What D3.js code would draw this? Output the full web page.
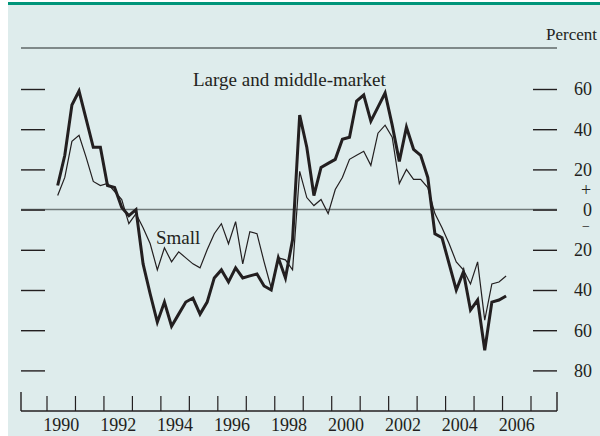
<!DOCTYPE html>
<html>
<head>
<meta charset="utf-8">
<script src="https://cdn.jsdelivr.net/npm/d3@7"></script>
<style>
  html, body { margin: 0; padding: 0; background: #ffffff; }
  svg { display: block; }
</style>
</head>
<body>
<svg id="chart" width="600" height="436"></svg>
<script>
// Quarterly survey dates (start 1990 Q2, plotted mid-quarter)
const startDate = 1990.375;
const largeValues = [12, 27, 52, 59, 45, 31, 31, 12, 11, 1, -3, 0,
  -27, -42, -56, -46, -58, -52, -46, -44, -52, -46, -34, -30,
  -36, -29, -34, -33, -32, -38, -40, -24, -34, -15, 47, 31,
  7, 21, 23, 25, 35, 36, 54, 57, 44, 51, 58, 42,
  24, 41, 30, 27, 16, -12, -14, -27, -40, -31, -50, -45,
  -70, -46, -45, -43];
const smallValues = [7, 16, 34, 37, 26, 14, 12, 13, 9, 5, -7, -2,
  -9, -17, -30, -19, -26, -21, -24, -27, -29, -20, -12, -7,
  -17, -6, -27, -11, -12, -26, -39, -24, -25, -30, 19, 6,
  2, 5, -2, 10, 16, 25, 27, 29, 22, 38, 42, 36,
  13, 20, 15, 15, 11, -2, -9, -17, -26, -30, -37, -26,
  -55, -37, -36, -33];
const yTicks = [60, 40, 20, 0, -20, -40, -60, -80];
const yTickLabels = ["60", "40", "20", "0", "20", "40", "60", "80"];
const xTickYears = d3.range(1990, 2008);
const xLabelYears = [1990, 1992, 1994, 1996, 1998, 2000, 2002, 2004, 2006];
const seriesLabels = ["Large and middle-market", "Small"];

const svg = d3.select("#chart");
const font = "'Liberation Serif', 'Times New Roman', serif";
const ink = "#231f20";

// background panel and header
svg.append("rect").attr("x", 8).attr("y", 4).attr("width", 592).attr("height", 432).attr("fill", "#deecec");
svg.append("line").attr("x1", 8).attr("x2", 600).attr("y1", 3.5).attr("y2", 3.5)
  .attr("stroke", "#00957a").attr("stroke-width", 3);

const x = d3.scaleLinear().domain([1989.0867, 2007.9133]).range([21, 557]);
const y = d3.scaleLinear().domain([-80, 60]).range([370.4, 89.0]);

svg.append("line").attr("x1", 21).attr("x2", 557).attr("y1", 48).attr("y2", 48)
  .attr("stroke", "#7f8989").attr("stroke-width", 2);
svg.append("text").attr("x", 597).attr("y", 40).attr("text-anchor", "end")
  .attr("font-family", font).attr("font-size", 17).attr("fill", ink).text("Percent");

// zero line
svg.append("line").attr("x1", 21).attr("x2", 557).attr("y1", y(0)).attr("y2", y(0))
  .attr("stroke", "#6f7878").attr("stroke-width", 1.5);

// y axes as ticks on both sides
const leftAxis = d3.axisLeft(y).tickValues(yTicks).tickSize(24).tickFormat("");
const gl = svg.append("g").attr("transform", "translate(45,0)").call(leftAxis);
gl.select(".domain").remove();
gl.selectAll(".tick line").attr("stroke", ink).attr("stroke-width", 1.4);

const rightAxis = d3.axisRight(y).tickValues(yTicks).tickSize(24).tickPadding(0)
  .tickFormat((d, i) => yTickLabels[i]);
const gr = svg.append("g").attr("transform", "translate(533,0)").call(rightAxis);
gr.select(".domain").remove();
gr.selectAll(".tick line").attr("stroke", ink).attr("stroke-width", 1.4);
gr.selectAll(".tick text").attr("x", 59).attr("text-anchor", "end").attr("dy", "0.33em")
  .attr("font-family", font).attr("font-size", 18).attr("fill", ink);
svg.append("text").attr("x", 586).attr("y", y(0) - 14).attr("text-anchor", "middle")
  .attr("font-family", font).attr("font-size", 18).attr("fill", ink).text("+");
svg.append("text").attr("x", 586).attr("y", y(0) + 21).attr("text-anchor", "middle")
  .attr("font-family", font).attr("font-size", 14).attr("fill", ink).text("\u2212");

// x axis
const xBase = 411;
const xAxis = d3.axisBottom(x).tickValues(xTickYears).tickSize(0).tickFormat("");
const gx = svg.append("g").attr("transform", `translate(0,${xBase})`).call(xAxis);
gx.select(".domain").remove();
svg.append("line").attr("x1", 21).attr("x2", 557).attr("y1", xBase).attr("y2", xBase)
  .attr("stroke", ink).attr("stroke-width", 1.4);
svg.append("g").selectAll("line").data(xTickYears).join("line")
  .attr("x1", d => x(d)).attr("x2", d => x(d)).attr("y1", xBase - 15).attr("y2", xBase)
  .attr("stroke", ink).attr("stroke-width", 1.2);
svg.append("g").selectAll("line").data(x.domain()).join("line")
  .attr("x1", d => x(d)).attr("x2", d => x(d)).attr("y1", xBase - 19).attr("y2", xBase)
  .attr("stroke", ink).attr("stroke-width", 1.4);
svg.append("g").selectAll("text").data(xLabelYears).join("text")
  .attr("x", d => x(d + 0.5)).attr("y", 431).attr("text-anchor", "middle")
  .attr("font-family", font).attr("font-size", 18).attr("fill", ink).text(d => d);

// series
const toPts = vals => vals.map((v, i) => [startDate + 0.25 * i, v]);
const line = d3.line().x(d => x(d[0])).y(d => y(d[1]));
svg.append("path").datum(toPts(smallValues)).attr("d", line)
  .attr("fill", "none").attr("stroke", ink).attr("stroke-width", 1.2).attr("stroke-linejoin", "miter");
svg.append("path").datum(toPts(largeValues)).attr("d", line)
  .attr("fill", "none").attr("stroke", ink).attr("stroke-width", 3).attr("stroke-linejoin", "miter");

// series labels
svg.append("text").attr("x", 193).attr("y", 86).attr("font-family", font).attr("font-size", 19)
  .attr("fill", ink).text(seriesLabels[0]);
svg.append("text").attr("x", 156).attr("y", 244).attr("font-family", font).attr("font-size", 19)
  .attr("fill", ink).text(seriesLabels[1]);
</script>
</body>
</html>
